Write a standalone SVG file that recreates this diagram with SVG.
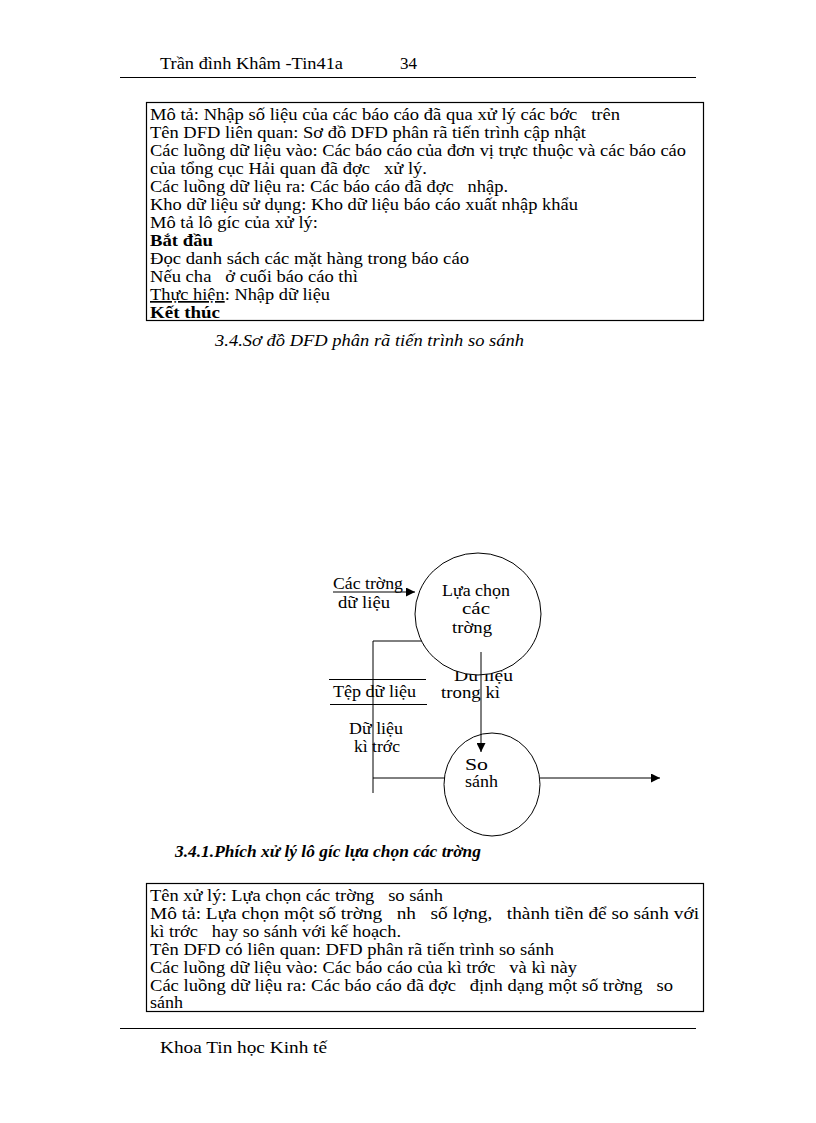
<svg xmlns="http://www.w3.org/2000/svg" width="816" height="1123" viewBox="0 0 816 1123">
<style>
text{font-family:"Liberation Serif","Times New Roman",serif;font-size:17px;fill:#000;white-space:pre}
.b{font-weight:bold}
.cap{font-style:italic}
.cap2{font-style:italic;font-weight:bold}
.ln{stroke:#000;stroke-width:1;fill:none}
.box{stroke:#000;stroke-width:1.2;fill:none}
.proc{stroke:#000;stroke-width:1;fill:#fff}
</style>
<defs>
<marker id="ah" viewBox="0 0 10 10" refX="10" refY="5" markerWidth="9" markerHeight="9" markerUnits="userSpaceOnUse" orient="auto">
<path d="M0,0 L10,5 L0,10 z" fill="#000"/>
</marker>
</defs>
<g id="header">
<text x="160" y="69" textLength="183" lengthAdjust="spacingAndGlyphs">Trần đình Khâm -Tin41a</text>
<text x="400" y="69" textLength="17" lengthAdjust="spacingAndGlyphs">34</text>
<line class="ln" x1="120" y1="77.5" x2="696" y2="77.5" stroke-width="1.5"/>
</g>
<g id="box1">
<rect class="box" x="146.5" y="102.5" width="557" height="218"/>
<text x="150" y="120" textLength="470" lengthAdjust="spacingAndGlyphs">Mô tả: Nhập số liệu của các báo cáo đã qua xử lý các bớc   trên</text>
<text x="150" y="138" textLength="436" lengthAdjust="spacingAndGlyphs">Tên DFD liên quan: Sơ đồ DFD phân rã tiến trình cập nhật</text>
<text x="150" y="156" textLength="536" lengthAdjust="spacingAndGlyphs">Các luồng dữ liệu vào: Các báo cáo của đơn vị trực thuộc và các báo cáo</text>
<text x="150" y="174" textLength="277" lengthAdjust="spacingAndGlyphs">của tổng cục Hải quan đã đợc   xử lý.</text>
<text x="150" y="192" textLength="358" lengthAdjust="spacingAndGlyphs">Các luồng dữ liệu ra: Các báo cáo đã đợc   nhập.</text>
<text x="150" y="210" textLength="428" lengthAdjust="spacingAndGlyphs">Kho dữ liệu sử dụng: Kho dữ liệu báo cáo xuất nhập khẩu</text>
<text x="150" y="228" textLength="168" lengthAdjust="spacingAndGlyphs">Mô tả lô gíc của xử lý:</text>
<text class="b" x="150" y="246" textLength="63" lengthAdjust="spacingAndGlyphs">Bắt đầu</text>
<text x="150" y="264" textLength="319" lengthAdjust="spacingAndGlyphs">Đọc danh sách các mặt hàng trong báo cáo</text>
<text x="150" y="282" textLength="208" lengthAdjust="spacingAndGlyphs">Nếu cha   ở cuối báo cáo thì</text>
<text x="150" y="300" textLength="180" lengthAdjust="spacingAndGlyphs"><tspan text-decoration="underline">Thực hiện</tspan>: Nhập dữ liệu</text>
<text class="b" x="150" y="318" textLength="70" lengthAdjust="spacingAndGlyphs">Kết thúc</text>
</g>
<text class="cap" x="215" y="346" textLength="309" lengthAdjust="spacingAndGlyphs">3.4.Sơ đồ DFD phân rã tiến trình so sánh</text>
<g id="connectors">
<line class="ln" x1="333" y1="592" x2="415" y2="592" marker-end="url(#ah)"/>
<polyline class="ln" points="373,793 373,641 432,641" marker-end="url(#ah)"/>
<line class="ln" x1="373" y1="778" x2="445" y2="778"/>
<line class="ln" x1="540" y1="778" x2="660" y2="778" marker-end="url(#ah)"/>
</g>
<g id="store">
<line class="ln" x1="329" y1="679.5" x2="426" y2="679.5"/>
<line class="ln" x1="330" y1="704.5" x2="427" y2="704.5"/>
<text x="333" y="697" textLength="83" lengthAdjust="spacingAndGlyphs">Tệp dữ liệu</text>
</g>
<g id="labels">
<text x="333" y="589" textLength="70" lengthAdjust="spacingAndGlyphs">Các trờng</text>
<text x="338" y="608" textLength="52" lengthAdjust="spacingAndGlyphs">dữ liệu</text>
<text x="349" y="734" textLength="54" lengthAdjust="spacingAndGlyphs">Dữ liệu</text>
<text x="354" y="752" textLength="46" lengthAdjust="spacingAndGlyphs">kì trớc</text>
<text x="454" y="681" textLength="59" lengthAdjust="spacingAndGlyphs">Dữ liệu</text>
<text x="441" y="698" textLength="59" lengthAdjust="spacingAndGlyphs">trong kì</text>
</g>
<g id="p1">
<ellipse class="proc" cx="478" cy="614" rx="63" ry="61"/>
<text x="442" y="596" textLength="68" lengthAdjust="spacingAndGlyphs">Lựa chọn</text>
<text x="462" y="614" textLength="28" lengthAdjust="spacingAndGlyphs">các</text>
<text x="452" y="633" textLength="40" lengthAdjust="spacingAndGlyphs">trờng</text>
</g>
<g id="conn2">
<line class="ln" x1="481" y1="652" x2="481" y2="752" marker-end="url(#ah)"/>
</g>
<g id="p2">
<ellipse cx="492" cy="784.5" rx="48" ry="51.5" stroke="#000" stroke-width="1" fill="none"/>
<text x="465" y="770" textLength="23" lengthAdjust="spacingAndGlyphs">So</text>
<text x="465" y="787" textLength="33" lengthAdjust="spacingAndGlyphs">sánh</text>
</g>
<text class="cap2" x="175" y="857" textLength="306" lengthAdjust="spacingAndGlyphs">3.4.1.Phích xử lý lô gíc lựa chọn các trờng</text>
<g id="box2">
<rect class="box" x="146.5" y="883.5" width="557" height="128"/>
<text x="150" y="901" textLength="293" lengthAdjust="spacingAndGlyphs">Tên xử lý: Lựa chọn các trờng   so sánh</text>
<text x="150" y="919" textLength="549" lengthAdjust="spacingAndGlyphs">Mô tả: Lựa chọn một số trờng   nh   số lợng,   thành tiền để so sánh với</text>
<text x="150" y="937" textLength="251" lengthAdjust="spacingAndGlyphs">kì trớc   hay so sánh với kế hoạch.</text>
<text x="150" y="955" textLength="404" lengthAdjust="spacingAndGlyphs">Tên DFD có liên quan: DFD phân rã tiến trình so sánh</text>
<text x="150" y="973" textLength="427" lengthAdjust="spacingAndGlyphs">Các luồng dữ liệu vào: Các báo cáo của kì trớc   và kì này</text>
<text x="150" y="991" textLength="523" lengthAdjust="spacingAndGlyphs">Các luồng dữ liệu ra: Các báo cáo đã đợc   định dạng một số trờng   so</text>
<text x="150" y="1008" textLength="33" lengthAdjust="spacingAndGlyphs">sánh</text>
</g>
<g id="footer">
<line class="ln" x1="120" y1="1028.5" x2="696" y2="1028.5" stroke-width="1.5"/>
<text x="160" y="1053" textLength="167" lengthAdjust="spacingAndGlyphs">Khoa Tin học Kinh tế</text>
</g>
</svg>
